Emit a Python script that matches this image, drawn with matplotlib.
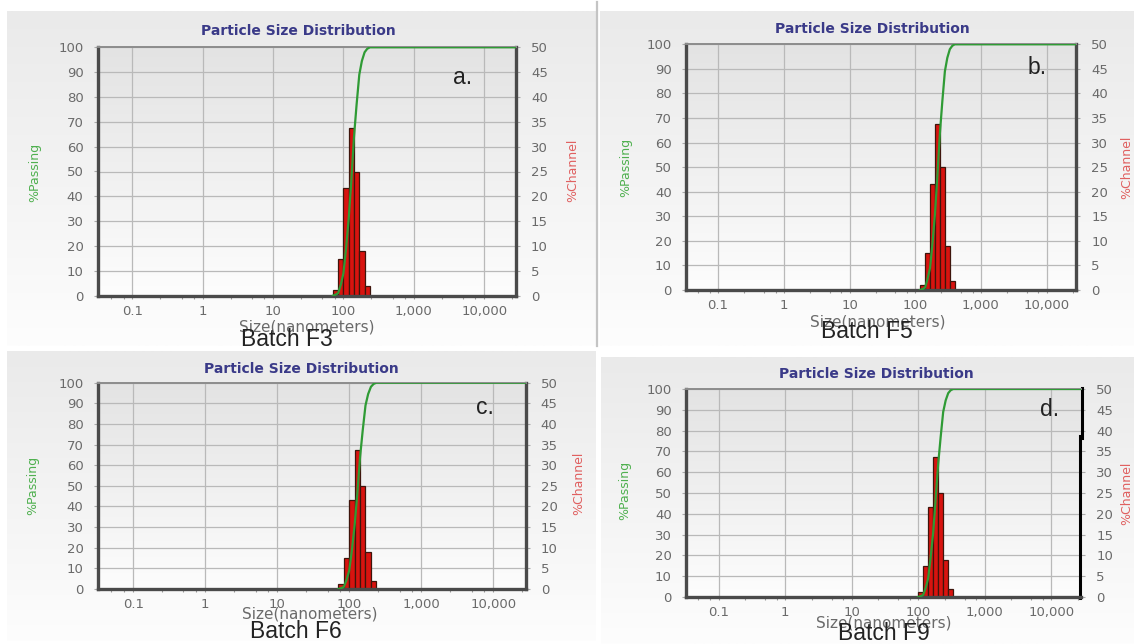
import numpy as np
import matplotlib
matplotlib.use("Agg")
import matplotlib.pyplot as plt
from matplotlib.lines import Line2D
from matplotlib.ticker import LogLocator, NullFormatter

# ── data ─────────────────────────────────────────────────────────────────
SIZE_TICKS = [0.1, 1, 10, 100, 1000, 10000]
SIZE_TICK_LABELS = ["0.1", "1", "10", "100", "1,000", "10,000"]
PASSING_TICKS = list(range(0, 101, 10))
CHANNEL_TICKS = list(range(0, 51, 5))

BATCHES = ["Batch F3", "Batch F5", "Batch F6", "Batch F9"]
LETTERS = ["a.", "b.", "c.", "d."]

# channel edges (nm) for each batch
EDGES_F3 = [70.7, 84.1, 100, 118.9, 141.4, 168.2, 200, 237.8]
EDGES_F5 = [118.9, 141.4, 168.2, 200, 237.8, 282.8, 336.4, 400]
EDGES_F6 = [70.7, 84.1, 100, 118.9, 141.4, 168.2, 200, 237.8]
EDGES_F9 = [100, 118.9, 141.4, 168.2, 200, 237.8, 282.8, 336.4]

# %Channel per bin
CHANNEL_F3 = [1.1, 7.4, 21.6, 33.7, 25.0, 8.9, 1.9]
CHANNEL_F5 = [1.1, 7.5, 21.6, 33.8, 25.0, 8.9, 1.9]
CHANNEL_F6 = [1.1, 7.4, 21.6, 33.7, 25.0, 8.9, 1.9]
CHANNEL_F9 = [1.1, 7.4, 21.6, 33.7, 25.0, 8.9, 1.9]

# %Passing curve points (size nm, %)
PASS_SIZE_F3 = [70.7, 77, 84.1, 92, 100, 109, 118.9, 130, 141.4, 154,
                168.2, 183, 200, 218, 237.8]
PASS_SIZE_F5 = [118.9, 130, 141.4, 154, 168.2, 183, 200, 218, 237.8, 259,
                282.8, 308, 336.4, 367, 400]
PASS_SIZE_F6 = [70.7, 77, 84.1, 92, 100, 109, 118.9, 130, 141.4, 154,
                168.2, 183, 200, 218, 237.8]
PASS_SIZE_F9 = [100, 109, 118.9, 130, 141.4, 154, 168.2, 183, 200, 218,
                237.8, 259, 282.8, 308, 336.4]
PASS_PCT_F3 = [0, 0.4, 1, 4.5, 9, 19, 31, 47, 64, 77, 89, 94.5, 98, 99.4, 100]
PASS_PCT_F5 = [0, 0.4, 1, 4.5, 9, 19, 31, 47, 64, 77, 89, 94.5, 98, 99.4, 100]
PASS_PCT_F6 = [0, 0.4, 1, 4.5, 9, 19, 31, 47, 64, 77, 89, 94.5, 98, 99.4, 100]
PASS_PCT_F9 = [0, 0.4, 1, 4.5, 9, 19, 31, 47, 64, 77, 89, 94.5, 98, 99.4, 100]

EDGES = [EDGES_F3, EDGES_F5, EDGES_F6, EDGES_F9]
CHANNEL = [CHANNEL_F3, CHANNEL_F5, CHANNEL_F6, CHANNEL_F9]
PASS_SIZE = [PASS_SIZE_F3, PASS_SIZE_F5, PASS_SIZE_F6, PASS_SIZE_F9]
PASS_PCT = [PASS_PCT_F3, PASS_PCT_F5, PASS_PCT_F6, PASS_PCT_F9]

# ── layout (pixel coordinates in the 1134x644 picture) ───────────────────
W, H = 1134, 644
XMIN, XMAX = 0.032, 28000

# plot boxes: x0, x1, ytop, ybottom
BOXES = [(97.5, 515.6, 47.3, 295.7),
         (685.6, 1076, 44.3, 290),
         (97.5, 525.5, 382.7, 589),
         (685.6, 1081, 389, 597)]
# screenshot backgrounds: x0, x1, ytop, ybottom
SCREENS = [(7, 596, 11, 346), (600, 1134, 11, 346),
           (7, 596, 351, 641), (601, 1134, 357, 644)]
TITLE_POS = [(298, 31), (872, 29), (301, 369), (876, 374)]
XLABEL_POS = [(307, 327), (878, 322), (310, 614), (884, 623)]
BATCH_POS = [(287, 340), (867, 332), (296, 631), (884, 633)]
LETTER_POS = [(463, 78), (1037, 68), (485, 408), (1050, 409)]
PASSLBL_POS = [(35, 172), (626, 167), (33, 485), (625, 490)]
CHANLBL_POS = [(573, 170), (1127, 167), (579, 483), (1127, 493)]

GREEN = "#2f9b35"
RED = "#d8130f"


def fx(x):
    return x / W


def fy(y):
    return 1 - y / H


def gradient(ax, x0, x1, y0, y1, top, bottom):
    c0 = np.array(matplotlib.colors.to_rgb(top))
    c1 = np.array(matplotlib.colors.to_rgb(bottom))
    t = np.linspace(0, 1, 256)[:, None, None]
    img = c0 + (c1 - c0) * t
    ax.imshow(img, extent=(x0, x1, y1, y0), aspect="auto",
              interpolation="bilinear", zorder=0)


fig = plt.figure(figsize=(W / 100, H / 100), dpi=100)
fig.patch.set_facecolor("white")

bg = fig.add_axes([0, 0, 1, 1])
bg.set_zorder(-1)
bg.axis("off")
for (sx0, sx1, sy0, sy1) in SCREENS:
    gradient(bg, sx0, sx1, sy0, sy1, "#eaeaea", "#fdfdfd")
for (bx0, bx1, by0, by1) in BOXES:
    gradient(bg, bx0, bx1, by0, by1, "#e3e3e3", "#fdfdfd")
bg.plot([597, 597], [2, 346], color="#c4c4c4", lw=1.6)
bg.set_xlim(0, W)
bg.set_ylim(H, 0)

tick_font = dict(family="DejaVu Sans", size=9.5, color="#6a6a6a")

for i in range(4):
    bx0, bx1, by0, by1 = BOXES[i]
    rect = [fx(bx0), fy(by1), (bx1 - bx0) / W, (by1 - by0) / H]
    ax = fig.add_axes(rect)
    ax2 = ax.twinx()
    ax.set_zorder(2)
    ax2.set_zorder(1)
    ax.patch.set_visible(False)
    ax2.patch.set_visible(False)

    ax.set_xscale("log")
    ax.set_xlim(XMIN, XMAX)
    ax.set_ylim(0, 100)
    ax2.set_ylim(0, 50)

    # grid under the bars
    ax2.set_axisbelow(True)
    ax2.grid(axis="y", color="#b9b9b9", lw=0.9)
    for t in SIZE_TICKS:
        ax2.axvline(t, color="#b9b9b9", lw=0.9, zorder=0.5)

    edges = np.array(EDGES[i])
    ax2.bar(edges[:-1], CHANNEL[i], width=np.diff(edges), align="edge",
            color=RED, edgecolor="#3e150c", lw=0.9, zorder=2)

    xs = PASS_SIZE[i] + [XMAX]
    ys = PASS_PCT[i] + [100]
    ax.plot(xs, ys, color=GREEN, lw=1.6, zorder=3,
            solid_joinstyle="round")

    ax.set_xticks(SIZE_TICKS)
    ax.set_xticklabels(SIZE_TICK_LABELS, **tick_font)
    ax.xaxis.set_minor_locator(LogLocator(base=10, subs=(2.5, 5.0, 7.5), numticks=20))
    ax.xaxis.set_minor_formatter(NullFormatter())
    ax.set_yticks(PASSING_TICKS)
    ax.set_yticklabels([str(v) for v in PASSING_TICKS], **tick_font)
    ax2.set_yticks(CHANNEL_TICKS)
    ax2.set_yticklabels([str(v) for v in CHANNEL_TICKS], **tick_font)

    ax.tick_params(axis="x", which="major", length=2.5, width=0.8,
                   color="#999999", pad=4)
    ax.tick_params(axis="x", which="minor", length=2, width=0.8,
                   color="#999999")
    ax.tick_params(axis="y", length=3, width=0.8, color="#aaaaaa", pad=7)
    ax2.tick_params(axis="y", length=3, width=0.8, color="#aaaaaa", pad=8)

    for side in ("left", "bottom"):
        ax.spines[side].set_color("#4a4a4a")
        ax.spines[side].set_linewidth(2.4)
    ax.spines["top"].set_color("#8c8c8c")
    ax.spines["top"].set_linewidth(1.4)
    ax.spines["right"].set_visible(False)
    for side in ("left", "bottom", "top"):
        ax2.spines[side].set_visible(False)
    ax2.spines["right"].set_color("#4a4a4a")
    ax2.spines["right"].set_linewidth(2.4 if i < 3 else 0)

    tx, ty = TITLE_POS[i]
    fig.text(fx(tx), fy(ty), "Particle Size Distribution", ha="center",
             va="center", fontsize=10, fontweight="bold", color="#3a3a88",
             family="DejaVu Sans")
    lx, ly = XLABEL_POS[i]
    fig.text(fx(lx), fy(ly), "Size(nanometers)", ha="center", va="center",
             fontsize=11, color="#6a6a6a", family="DejaVu Sans")
    px_, py_ = PASSLBL_POS[i]
    fig.text(fx(px_), fy(py_), "%Passing", ha="center", va="center",
             rotation=90, fontsize=9, color="#4fb04f", family="DejaVu Sans")
    cx, cy = CHANLBL_POS[i]
    fig.text(fx(cx), fy(cy), "%Channel", ha="center", va="center",
             rotation=90, fontsize=9, color="#e06060", family="DejaVu Sans")
    btx, bty = BATCH_POS[i]
    fig.text(fx(btx), fy(bty), BATCHES[i], ha="center", va="center",
             fontsize=16.5, color="#222222", family="Liberation Sans")
    ltx, lty = LETTER_POS[i]
    fig.text(fx(ltx), fy(lty), LETTERS[i], ha="center", va="center",
             fontsize=16.5, color="#222222", family="Liberation Sans")

# stray black edge drawn over panel d's right axis
fig.add_artist(Line2D([fx(1082), fx(1082)], [fy(388), fy(438)],
                      color="black", lw=2.2, transform=fig.transFigure))
fig.add_artist(Line2D([fx(1080), fx(1080)], [fy(436), fy(598)],
                      color="black", lw=2.2, transform=fig.transFigure))

fig.savefig("out.png", dpi=100)
